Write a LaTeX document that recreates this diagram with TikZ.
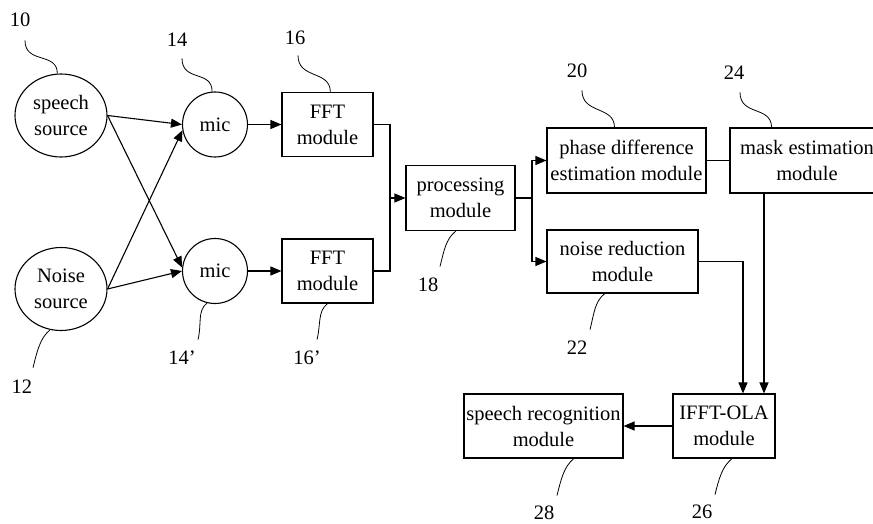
\documentclass[tikz,border=0pt]{standalone}
\usepackage{fontspec}
\setmainfont{Liberation Serif}
\usetikzlibrary{arrows.meta,shapes.geometric}

\begin{document}
\begin{tikzpicture}[x=1pt,y=-1pt,line width=1.1pt]
  \tikzstyle{every node}=[font=\fontsize{20.5}{26}\selectfont,align=center,inner sep=0]
  \tikzstyle{src}=[draw,ellipse,minimum width=92,minimum height=83]
  \tikzstyle{mic}=[draw,circle,minimum size=65]
  \tikzstyle{box}=[draw,rectangle,minimum height=64]
  \tikzstyle{arr}=[-{Triangle[length=11pt,width=9pt]}]
  \tikzstyle{lead}=[line width=0.8pt]
  \useasboundingbox (0,0) rectangle (873,524);
  \clip (0,0) rectangle (873,524);
  \node[src] (10) at (61,115.5) {speech\\source};
  \node[src] (12) at (61,289) {Noise\\source};
  \node[mic] (14) at (215,124.5) {mic};
  \node[mic] (14b) at (215,271) {mic};
  \node[box,minimum width=91] (16) at (327.5,124.5) {FFT\\module};
  \node[box,minimum width=91] (16b) at (327.5,271) {FFT\\module};
  \node[box,minimum width=109,minimum height=65] (18) at (460.5,198) {processing\\module};
  \node[box,minimum width=159,minimum height=65] (20) at (626.5,160.5) {phase difference\\estimation module};
  \node[box,minimum width=154,minimum height=65] (24) at (807,160.5) {mask estimation\\module};
  \node[box,minimum width=151,minimum height=63] (22) at (622.5,261.5) {noise reduction\\module};
  \node[box,minimum width=102] (26) at (724,426) {IFFT-OLA\\module};
  \node[box,minimum width=159] (28) at (543.5,426) {speech recognition\\module};
  \coordinate (j) at (390,198);
  \coordinate (s) at (532,198);
  \path[arr]
    (10.east) edge (14.west)
    (10.east) edge (14b.174)
    (12.east) edge (14.-170)
    (12.east) edge (14b.west)
    (14) edge (16)
    (14b) edge (16b)
    (j) edge (18)
    (26) edge (28);
  \draw (16.east) -| (j) |- (16b.east);
  \draw (18.east) -- (s);
  \draw[arr] (s) |- (20.west);
  \draw[arr] (s) |- (22.west);
  \draw (20) -- (24);
  \draw[arr] (22.east) -| ([xshift=19]26.north);
  \draw[arr] ([xshift=-43]24.south) -- ([xshift=40]26.north);
  % reference numbers
  \node (n10) at (20,20) {10};
  \node (n12) at (22,387) {12};
  \node (n14) at (177,40) {14};
  \node (n14b) at (182,358) {14’};
  \node (n16) at (295,38) {16};
  \node (n16b) at (307,358) {16’};
  \node (n18) at (428,285) {18};
  \node (n20) at (577,71) {20};
  \node (n22) at (577,348) {22};
  \node (n24) at (734,73) {24};
  \node (n26) at (702,512) {26};
  \node (n28) at (544,513) {28};
  \draw[lead] ([shift={(5,13)}]n10.south) .. controls +(0,24) and +(0,-22) .. (10.95);
  \draw[lead] ([shift={(5,11)}]n14.south) .. controls +(0,24) and +(0,-22) .. (14.95);
  \draw[lead] ([shift={(3,10)}]n16.south) .. controls +(0,24) and +(0,-22) .. (16.85);
  \draw[lead] ([shift={(5,12)}]n20.south) .. controls +(0,24) and +(0,-22) .. (20.110);
  \draw[lead] ([shift={(6,12)}]n24.south) .. controls +(0,24) and +(0,-22) .. (24.137);
  \draw[lead] (12.-105) .. controls +(-10,8) and +(4,-16) .. ([shift={(11,-12)}]n12.north);
  \draw[lead] (14b.-104) .. controls +(-10,8) and +(4,-16) .. ([shift={(16,-11)}]n14b.north);
  \draw[lead] (16b.south) .. controls +(-10,8) and +(4,-16) .. ([shift={(10,-11)}]n16b.north);
  \draw[lead] (18.-98) .. controls +(-10,8) and +(4,-16) .. ([shift={(12,-11)}]n18.north);
  \draw[lead] (22.-119) .. controls +(-10,8) and +(4,-16) .. ([shift={(13,-11)}]n22.north);
  \draw[lead] (28.-47) .. controls +(-10,8) and +(4,-16) .. ([shift={(13,-10)}]n28.north);
  \draw[lead] (26.-76) .. controls +(-10,8) and +(4,-16) .. ([shift={(13,-10)}]n26.north);
\end{tikzpicture}
\end{document}
